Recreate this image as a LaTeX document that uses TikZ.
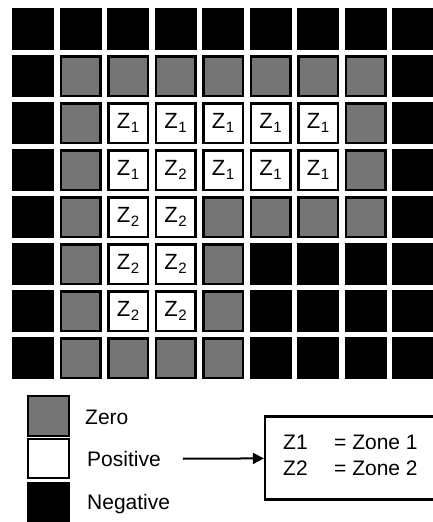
\documentclass[tikz,border=0pt]{standalone}
\usepackage{fontspec}
\setmainfont{Liberation Sans}
\usetikzlibrary{arrows.meta}
\newcommand{\zsub}[1]{{\fontsize{22}{22}\selectfont Z\kern0.5pt\raisebox{-4.5pt}{\fontsize{15}{15}\selectfont #1}}}
\begin{document}
\begin{tikzpicture}[x=1pt,y=-1pt,
  cell/.style={inner sep=0pt,outer sep=0pt,node contents={}},
  cN/.style={cell,fill=black,minimum width=42pt,minimum height=42pt},
  cZ/.style={cell,fill=black!54,draw=black,line width=2.5pt,minimum width=39.5pt,minimum height=39.5pt},
  cP/.style={cell,fill=white,draw=black,line width=2.5pt,minimum width=39.5pt,minimum height=39.5pt},
  cA/.style={cP,node contents={\zsub{1}}},
  cB/.style={cP,node contents={\zsub{2}}},
  legtext/.style={anchor=west,inner sep=0pt,font=\fontsize{21}{21}\selectfont},
  arr/.style={line width=2pt,-{Triangle[length=11pt,width=11pt]}}
]
\useasboundingbox (0,0) rectangle (433,522);
\foreach \row [count=\j from 0] in {
  {N,N,N,N,N,N,N,N,N},
  {N,Z,Z,Z,Z,Z,Z,Z,N},
  {N,Z,A,A,A,A,A,Z,N},
  {N,Z,A,B,A,A,A,Z,N},
  {N,Z,B,B,Z,Z,Z,Z,N},
  {N,Z,B,B,Z,N,N,N,N},
  {N,Z,B,B,Z,N,N,N,N},
  {N,Z,Z,Z,Z,N,N,N,N}} {
  \foreach \c [count=\i from 0] in \row {
    \node (c-\j-\i) at ({33+47.5*\i},{29+47*\j}) [c\c];
  }
}
% legend
\node (lz) at (48.5,416) [cZ,minimum width=41pt,minimum height=40pt];
\node (lp) at (48.5,458.5) [cP,minimum width=41pt,minimum height=39pt];
\node (ln) at (48.5,503) [cN,minimum width=43pt,minimum height=42pt];
\node[legtext] (lzt) at (85,417) {Zero};
\node[legtext] (lpt) at (87,459) {Positive};
\node[legtext] (lnt) at (87,504) {Negative};
% zone box
\node[draw=black,line width=2.2pt,minimum width=180pt,minimum height=83pt,inner sep=0pt] (box) at (355,458) {};
\node[legtext] (z1) at (283,442) {Z1};
\node[legtext] (z1e) at (334,442) {= Zone 1};
\node[legtext] (z2) at (283,468) {Z2};
\node[legtext] (z2e) at (334,468) {= Zone 2};
\draw[arr,shorten <=22pt] (lpt) -- (box);
\end{tikzpicture}
\end{document}
